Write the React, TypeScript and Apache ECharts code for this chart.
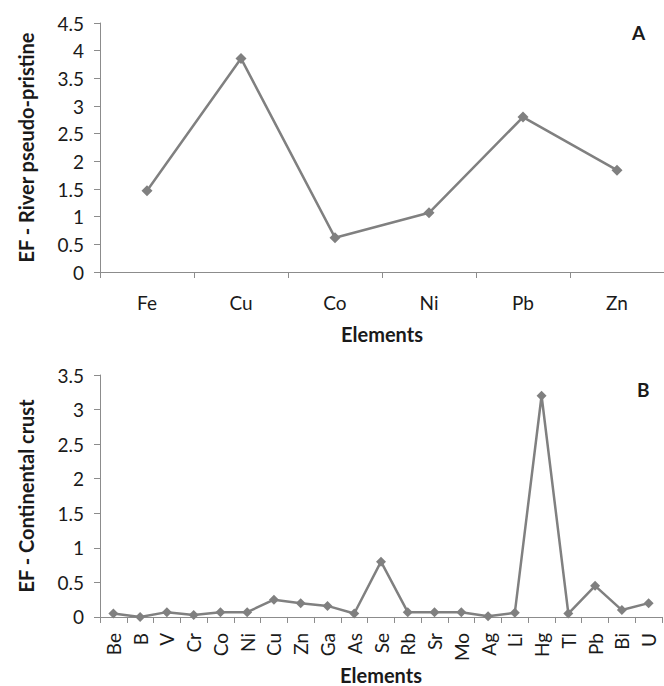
import React, { useEffect, useRef } from "react";
import * as echarts from "echarts";

const catsA = ["Fe", "Cu", "Co", "Ni", "Pb", "Zn"];
const valsA = [1.47, 3.86, 0.62, 1.07, 2.8, 1.84];

const catsB = ["Be", "B", "V", "Cr", "Co", "Ni", "Cu", "Zn", "Ga", "As", "Se", "Rb", "Sr", "Mo", "Ag", "Li", "Hg", "Tl", "Pb", "Bi", "U"];
const valsB = [0.05, 0.0, 0.07, 0.03, 0.07, 0.07, 0.25, 0.2, 0.16, 0.05, 0.8, 0.07, 0.07, 0.07, 0.01, 0.06, 3.2, 0.05, 0.45, 0.1, 0.2];

const FONT = "Lato";
const AXIS = "#8c8c8c";
const LINE = "#808080";
const TEXT = "#1a1a1a";
const TICK_FS = 19;
const NAME_FS = 20;

export default function App() {
  const ref = useRef<HTMLDivElement>(null);
  useEffect(() => {
    const chart = echarts.init(ref.current!, null, { renderer: "svg" });
    const yAxisBase = (max: number, name: string) => ({
      type: "value",
      min: 0,
      max,
      interval: 0.5,
      name,
      nameLocation: "middle",
      nameGap: 64,
      nameTextStyle: { fontFamily: FONT, fontSize: NAME_FS, fontWeight: "bold", color: TEXT },
      axisLine: { show: true, lineStyle: { color: AXIS, width: 1 } },
      axisTick: { show: true, length: 6, lineStyle: { color: AXIS } },
      splitLine: { show: false },
      axisLabel: { fontFamily: FONT, fontSize: TICK_FS, color: TEXT, margin: 16 },
    });
    const xAxisBase = (data: string[], gIdx: number) => ({
      type: "category",
      gridIndex: gIdx,
      data,
      boundaryGap: true,
      name: "Elements",
      nameLocation: "middle",
      nameTextStyle: { fontFamily: FONT, fontSize: NAME_FS, fontWeight: "bold", color: TEXT },
      axisLine: { show: true, lineStyle: { color: AXIS, width: 1 } },
      axisTick: { show: true, length: 6, lineStyle: { color: AXIS } },
      splitLine: { show: false },
    });
    chart.setOption({
      animation: false,
      backgroundColor: "#ffffff",
      grid: [
        { left: 100, top: 23, width: 564, height: 249 },
        { left: 100, top: 375, width: 562, height: 245 },
      ],
      xAxis: [
        {
          ...xAxisBase(catsA, 0),
          nameGap: 52,
          axisLabel: { fontFamily: FONT, fontSize: TICK_FS, color: TEXT, margin: 21, interval: 0 },
        },
        {
          ...xAxisBase(catsB, 1),
          nameGap: 47,
          axisLabel: { fontFamily: FONT, fontSize: TICK_FS, color: TEXT, margin: 16, rotate: 90, interval: 0 },
        },
      ],
      yAxis: [
        { ...yAxisBase(4.5, "EF - River pseudo-pristine"), gridIndex: 0 },
        { ...yAxisBase(3.5, "EF - Continental crust"), gridIndex: 1 },
      ],
      series: [
        {
          type: "line",
          xAxisIndex: 0,
          yAxisIndex: 0,
          data: valsA,
          symbol: "diamond",
          symbolSize: 11,
          lineStyle: { color: LINE, width: 2.5 },
          itemStyle: { color: LINE },
        },
        {
          type: "line",
          xAxisIndex: 1,
          yAxisIndex: 1,
          data: valsB,
          symbol: "diamond",
          symbolSize: 10,
          lineStyle: { color: LINE, width: 2.5 },
          itemStyle: { color: LINE },
        },
      ],
      graphic: [
        { type: "text", left: 632, top: 23, style: { text: "A", fontFamily: FONT, fontSize: 19, fontWeight: "bold", fill: TEXT } },
        { type: "text", left: 637, top: 380, style: { text: "B", fontFamily: FONT, fontSize: 19, fontWeight: "bold", fill: TEXT } },
      ],
    });
    return () => chart.dispose();
  }, []);
  return <div ref={ref} style={{ position: "fixed", left: 0, top: 0, width: 664, height: 686 }} />;
}
